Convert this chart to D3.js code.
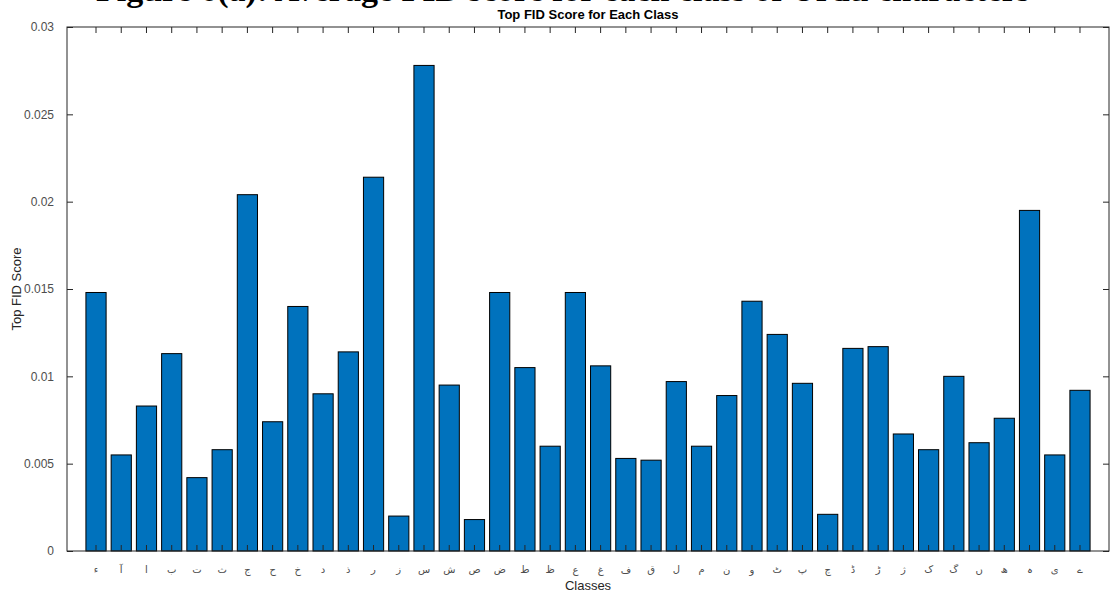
<!DOCTYPE html>
<html>
<head>
<meta charset="utf-8">
<script src="https://cdn.jsdelivr.net/npm/d3@7"></script>
<style>
  html, body { margin: 0; padding: 0; background: #fff; }
  svg { display: block; }
</style>
</head>
<body>
<svg id="chart" width="1112" height="594"></svg>
<script>
// Urdu character classes, in code-point order
const classes = ["ء","آ","ا","ب","ت","ث","ج","ح","خ","د","ذ","ر","ز","س","ش","ص","ض","ط","ظ","ع","غ","ف","ق","ل","م","ن","و","ٹ","پ","چ","ڈ","ڑ","ژ","ک","گ","ں","ھ","ہ","ی","ے"];

// Best FID score reached by each class
const topFID = [0.0148,0.0055,0.0083,0.0113,0.0042,0.0058,0.0204,0.0074,0.0140,0.0090,
                0.0114,0.0214,0.0020,0.0278,0.0095,0.0018,0.0148,0.0105,0.0060,0.0148,
                0.0106,0.0053,0.0052,0.0097,0.0060,0.0089,0.0143,0.0124,0.0096,0.0021,
                0.0116,0.0117,0.0067,0.0058,0.0100,0.0062,0.0076,0.0195,0.0055,0.0092];

const yTicks = [0, 0.005, 0.01, 0.015, 0.02, 0.025, 0.03];
const yTickLabels = ["0","0.005","0.01","0.015","0.02","0.025","0.03"];

(function () {
  const svg = d3.select("#chart");
  const plotL = 67, plotR = 1109, plotT = 27, plotB = 551;
  const axisColor = "#262626";
  const font = "'Liberation Sans', Arial, Helvetica, sans-serif";

  const x = d3.scaleBand().domain(classes).range([plotL, plotR])
    .paddingInner(0.2).paddingOuter(0.75);
  const y = d3.scaleLinear().domain([0, 0.03]).range([plotB, plotT]);

  // Figure caption running across the top edge (only its lower part fits on the page)
  svg.append("text")
    .attr("x", 563).attr("y", 1)
    .attr("text-anchor", "middle")
    .attr("font-family", "'Liberation Serif', 'Times New Roman', serif")
    .attr("font-weight", "bold")
    .attr("font-size", 34)
    .attr("fill", "#000")
    .text("Figure 6(a): Average FID score for each class of Urdu characters");

  // Bars
  svg.append("g").selectAll("rect")
    .data(classes)
    .join("rect")
    .attr("x", d => x(d))
    .attr("width", x.bandwidth())
    .attr("y", (d, i) => y(topFID[i]))
    .attr("height", (d, i) => y(0) - y(topFID[i]))
    .attr("fill", "#0072BD")
    .attr("stroke", "#000")
    .attr("stroke-width", 1);

  // Axes: ticks pointing inward on all four sides
  const tickLen = 6;

  const bottomAxis = svg.append("g").attr("transform", `translate(0,${plotB})`)
    .call(d3.axisBottom(x).tickSizeInner(-tickLen).tickSizeOuter(0).tickPadding(tickLen + 9));
  const topAxis = svg.append("g").attr("transform", `translate(0,${plotT})`)
    .call(d3.axisTop(x).tickSizeInner(-tickLen).tickSizeOuter(0).tickFormat(""));
  const leftAxis = svg.append("g").attr("transform", `translate(${plotL},0)`)
    .call(d3.axisLeft(y).tickValues(yTicks).tickFormat((d, i) => yTickLabels[i])
          .tickSizeInner(-tickLen).tickSizeOuter(0).tickPadding(tickLen + 7));
  const rightAxis = svg.append("g").attr("transform", `translate(${plotR},0)`)
    .call(d3.axisRight(y).tickValues(yTicks).tickFormat("")
          .tickSizeInner(-tickLen).tickSizeOuter(0));

  [bottomAxis, topAxis, leftAxis, rightAxis].forEach(g => {
    g.select(".domain").remove();
    g.selectAll(".tick line").attr("stroke", axisColor).attr("stroke-width", 1);
  });
  bottomAxis.selectAll(".tick text")
    .attr("fill", "#4d4d4d")
    .attr("font-family", "'DejaVu Sans', 'Noto Sans', sans-serif")
    .attr("font-size", 10);
  leftAxis.selectAll(".tick text")
    .attr("fill", "#4d4d4d")
    .attr("font-family", font)
    .attr("font-size", 12);

  // Box around the plot area
  svg.append("rect")
    .attr("x", plotL).attr("y", plotT)
    .attr("width", plotR - plotL).attr("height", plotB - plotT)
    .attr("fill", "none").attr("stroke", axisColor).attr("stroke-width", 1);

  // Title and axis labels
  svg.append("text")
    .attr("x", (plotL + plotR) / 2).attr("y", 19)
    .attr("text-anchor", "middle")
    .attr("font-family", font).attr("font-weight", "bold").attr("font-size", 13)
    .attr("fill", "#000")
    .text("Top FID Score for Each Class");

  svg.append("text")
    .attr("x", (plotL + plotR) / 2).attr("y", 590)
    .attr("text-anchor", "middle")
    .attr("font-family", font).attr("font-size", 13)
    .attr("fill", "#262626")
    .text("Classes");

  svg.append("text")
    .attr("transform", `translate(21,${(plotT + plotB) / 2}) rotate(-90)`)
    .attr("text-anchor", "middle")
    .attr("font-family", font).attr("font-size", 13)
    .attr("fill", "#262626")
    .text("Top FID Score");
})();
</script>
</body>
</html>
